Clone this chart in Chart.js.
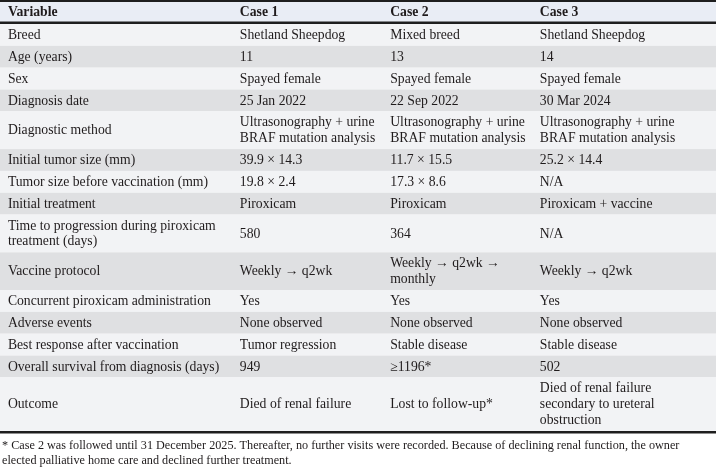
<!DOCTYPE html>
<html>
<head>
<meta charset="utf-8">
<script src="https://cdn.jsdelivr.net/npm/chart.js@4.4.1/dist/chart.umd.min.js"></script>
<style>
    html, body { margin: 0; padding: 0; background: #fff; }
    #wrap { width: 716px; height: 467px; position: relative; }
</style>
</head>
<body>
<div id="wrap"><canvas id="caseTable"></canvas></div>
<script>
// Table content
const headers = ['Variable', 'Case 1', 'Case 2', 'Case 3'];

const variables = [
    'Breed',
    'Age (years)',
    'Sex',
    'Diagnosis date',
    'Diagnostic method',
    'Initial tumor size (mm)',
    'Tumor size before vaccination (mm)',
    'Initial treatment',
    'Time to progression during piroxicam\ntreatment (days)',
    'Vaccine protocol',
    'Concurrent piroxicam administration',
    'Adverse events',
    'Best response after vaccination',
    'Overall survival from diagnosis (days)',
    'Outcome'
];

const case1 = [
    'Shetland Sheepdog',
    '11',
    'Spayed female',
    '25 Jan 2022',
    'Ultrasonography + urine\nBRAF mutation analysis',
    '39.9 × 14.3',
    '19.8 × 2.4',
    'Piroxicam',
    '580',
    'Weekly → q2wk',
    'Yes',
    'None observed',
    'Tumor regression',
    '949',
    'Died of renal failure'
];

const case2 = [
    'Mixed breed',
    '13',
    'Spayed female',
    '22 Sep 2022',
    'Ultrasonography + urine\nBRAF mutation analysis',
    '11.7 × 15.5',
    '17.3 × 8.6',
    'Piroxicam',
    '364',
    'Weekly → q2wk →\nmonthly',
    'Yes',
    'None observed',
    'Stable disease',
    '≥1196*',
    'Lost to follow-up*'
];

const case3 = [
    'Shetland Sheepdog',
    '14',
    'Spayed female',
    '30 Mar 2024',
    'Ultrasonography + urine\nBRAF mutation analysis',
    '25.2 × 14.4',
    'N/A',
    'Piroxicam + vaccine',
    'N/A',
    'Weekly → q2wk',
    'Yes',
    'None observed',
    'Stable disease',
    '502',
    'Died of renal failure\nsecondary to ureteral\nobstruction'
];

const footnote = '* Case 2 was followed until 31 December 2025. Thereafter, no further visits were recorded. Because of declining renal function, the owner\nelected palliative home care and declined further treatment.';

// Layout settings
const FONT = '"Liberation Serif", "Times New Roman", serif';
const FONT_SIZE = 13.7;
const NOTE_SIZE = 12.2;
const ROW_PAD = 0.375;              // extra row height, in line units
const COL_LEFT = [1.1, 33.5, 54.5, 75.4]; // column text start, % of width
const COLORS = {
    text: '#1f1b1c',
    rule: '#1e1e1e',
    header: '#e9edf5',
    rowLight: '#f2f3f5',
    rowDark: '#dfe0e2'
};

const columns = [variables, case1, case2, case3];

// line count of each row = tallest cell
const rowLines = variables.map((_, i) =>
    Math.max(...columns.map(col => col[i].split('\n').length)));

const rowStart = [];
let total = 0;
rowLines.forEach(n => {
    rowStart.push(total);
    total += n + ROW_PAD;
});

function drawLines(ctx, text, x, yMid, lineH) {
    const lines = text.split('\n');
    const top = yMid - (lines.length - 1) * lineH / 2;
    lines.forEach((ln, k) => ctx.fillText(ln, x, top + k * lineH));
}

const tablePlugin = {
    id: 'tableCells',
    beforeDraw(chart) {
        const { ctx, chartArea, scales: { x, y } } = chart;
        const left = x.getPixelForValue(0);
        const right = x.getPixelForValue(100);
        const lineH = Math.abs(y.getPixelForValue(1) - y.getPixelForValue(0));

        ctx.save();
        ctx.fillStyle = '#fff';
        ctx.fillRect(0, 0, chart.width, chart.height);

        // header band
        ctx.fillStyle = COLORS.header;
        ctx.fillRect(left, 2, right - left, chartArea.top - 4);

        // row bands
        variables.forEach((_, i) => {
            const y0 = y.getPixelForValue(rowStart[i]);
            const y1 = y.getPixelForValue(rowStart[i] + rowLines[i] + ROW_PAD);
            ctx.fillStyle = i % 2 === 0 ? COLORS.rowLight : COLORS.rowDark;
            ctx.fillRect(left, y0, right - left, y1 - y0);
        });

        // rules
        ctx.fillStyle = COLORS.rule;
        ctx.fillRect(left, 0, right - left, 2);
        ctx.fillRect(left, chartArea.top - 2.5, right - left, 2.5);
        ctx.fillRect(left, chartArea.bottom, right - left, 2.5);

        ctx.textBaseline = 'middle';
        ctx.textAlign = 'left';

        // header text
        ctx.fillStyle = COLORS.text;
        ctx.font = 'bold ' + FONT_SIZE + 'px ' + FONT;
        headers.forEach((h, c) => {
            ctx.fillText(h, x.getPixelForValue(COL_LEFT[c]), (chartArea.top) / 2 + 0.5);
        });

        // body text
        ctx.font = FONT_SIZE + 'px ' + FONT;
        columns.forEach((col, c) => {
            const cx = x.getPixelForValue(COL_LEFT[c]);
            col.forEach((txt, i) => {
                const mid = y.getPixelForValue(rowStart[i] + (rowLines[i] + ROW_PAD) / 2);
                drawLines(ctx, txt, cx, mid + 0.5, lineH);
            });
        });

        // footnote
        ctx.font = NOTE_SIZE + 'px ' + FONT;
        ctx.textBaseline = 'alphabetic';
        footnote.split('\n').forEach((ln, k) => {
            ctx.fillText(ln, left + 2, chartArea.bottom + 18 + k * 15);
        });
        ctx.restore();
    }
};

new Chart(document.getElementById('caseTable'), {
    type: 'scatter',
    data: { datasets: [] },
    options: {
        responsive: true,
        maintainAspectRatio: false,
        animation: false,
        layout: { padding: { top: 24, bottom: 36, left: 0, right: 0 } },
        plugins: {
            legend: { display: false },
            tooltip: { enabled: false }
        },
        scales: {
            x: { type: 'linear', min: 0, max: 100, display: false },
            y: { type: 'linear', min: 0, max: total, reverse: true, display: false }
        }
    },
    plugins: [tablePlugin]
});
</script>
</body>
</html>
